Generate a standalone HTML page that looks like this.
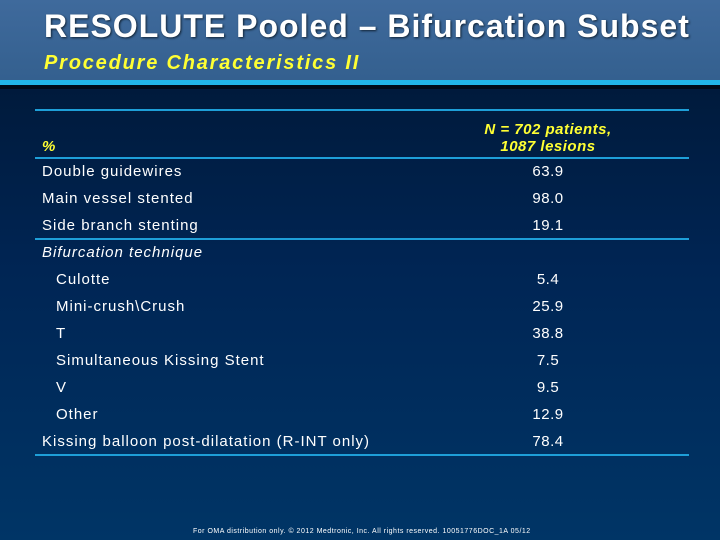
<!DOCTYPE html>
<html><head><meta charset="utf-8"><style>
body{margin:0;width:720px;height:540px;overflow:hidden;font-family:"Liberation Sans",sans-serif}
#bg{position:absolute;left:0;top:0;width:720px;height:540px;background:linear-gradient(#001530 0%,#002554 50%,#003566 100%)}
#hdr{position:absolute;left:0;top:0;width:720px;height:80px;background:linear-gradient(#3f6a9c,#34608f)}
#cy{position:absolute;left:0;top:80px;width:720px;height:5px;background:#22b5e8}
#sh{position:absolute;left:0;top:85px;width:720px;height:4px;background:#000a18}
.t{position:absolute;white-space:nowrap}
.ln{position:absolute;left:35px;width:654px;height:2px;background:#1e9fd8}
.r{position:absolute;color:#fff;font-size:15px;letter-spacing:1px;white-space:nowrap}
.v{position:absolute;left:498px;width:100px;text-align:center;color:#fff;font-size:15px;letter-spacing:0.5px}
</style></head><body>
<div id="bg"></div>
<div id="hdr"></div>
<div id="cy"></div>
<div id="sh"></div>
<div class="t" style="left:44px;top:8px;font-size:32px;font-weight:bold;color:#fff;letter-spacing:1px;text-shadow:1px 1px 2px #123">RESOLUTE Pooled – Bifurcation Subset</div>
<div class="t" style="left:44px;top:52px;font-size:20px;font-weight:bold;font-style:italic;color:#ffff33;letter-spacing:1.8px">Procedure Characteristics II</div>
<div class="ln" style="top:109px"></div>
<div class="ln" style="top:157px"></div>
<div class="ln" style="top:238px"></div>
<div class="ln" style="top:454px"></div>
<div class="t" style="left:42px;top:138px;font-size:15px;font-weight:bold;font-style:italic;color:#ffff33">%</div>
<div class="t" style="left:470px;top:121px;width:156px;text-align:center;font-size:15px;font-weight:bold;font-style:italic;color:#ffff33;line-height:17px;letter-spacing:0.5px">N = 702 patients,<br>1087 lesions</div>
<div class="r" style="left:42px;top:163px">Double guidewires</div><div class="v" style="top:163px">63.9</div>
<div class="r" style="left:42px;top:190px">Main vessel stented</div><div class="v" style="top:190px">98.0</div>
<div class="r" style="left:42px;top:217px">Side branch stenting</div><div class="v" style="top:217px">19.1</div>
<div class="r" style="left:42px;top:244px;font-style:italic">Bifurcation technique</div>
<div class="r" style="left:56px;top:271px">Culotte</div><div class="v" style="top:271px">5.4</div>
<div class="r" style="left:56px;top:298px">Mini-crush\Crush</div><div class="v" style="top:298px">25.9</div>
<div class="r" style="left:56px;top:325px">T</div><div class="v" style="top:325px">38.8</div>
<div class="r" style="left:56px;top:352px">Simultaneous Kissing Stent</div><div class="v" style="top:352px">7.5</div>
<div class="r" style="left:56px;top:379px">V</div><div class="v" style="top:379px">9.5</div>
<div class="r" style="left:56px;top:406px">Other</div><div class="v" style="top:406px">12.9</div>
<div class="r" style="left:42px;top:433px">Kissing balloon post-dilatation (R-INT only)</div><div class="v" style="top:433px">78.4</div>
<div class="t" style="left:193px;top:528px;font-size:7px;color:#fff;letter-spacing:0.5px">For OMA distribution only. © 2012 Medtronic, Inc. All rights reserved. 10051776DOC_1A 05/12</div>
</body></html>
